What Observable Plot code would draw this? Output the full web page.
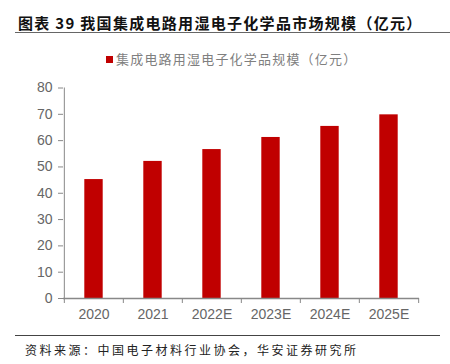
<!DOCTYPE html>
<html><head><meta charset="utf-8">
<script src="https://cdn.jsdelivr.net/npm/d3@7"></script>
<script src="https://cdn.jsdelivr.net/npm/@observablehq/plot@0.6"></script>
<style>
body{margin:0;background:#fff;}
#wrap{position:relative;width:450px;height:364px;overflow:hidden;font-family:"Noto Sans CJK SC",sans-serif;}
#title{position:absolute;left:18px;top:12px;font-size:15px;font-weight:bold;letter-spacing:1.3px;color:#111;white-space:nowrap;}
#tline{position:absolute;left:15px;top:32px;width:435px;height:1px;background:#666;}
#legend{position:absolute;left:106px;top:49px;font-size:13px;letter-spacing:1.2px;color:#7f7f7f;white-space:nowrap;}
#legend span{display:inline-block;width:7px;height:7px;background:#C00000;margin-right:3px;vertical-align:1px;}
#fline{position:absolute;left:15px;top:335px;width:425px;height:1px;background:#444;}
#foot{position:absolute;left:25px;top:341px;font-size:12px;letter-spacing:2.5px;color:#222;white-space:nowrap;}
#chart{position:absolute;left:0;top:0;}
</style></head>
<body><div id="wrap">
<div id="chart"></div>
<div id="title">图表 39 我国集成电路用湿电子化学品市场规模（亿元）</div>
<div id="tline"></div>
<div id="legend"><span></span>集成电路用湿电子化学品规模（亿元）</div>
<div id="fline"></div>
<div id="foot">资料来源：中国电子材料行业协会，华安证券研究所</div>
</div>
<script>
const years = ["2020","2021","2022E","2023E","2024E","2025E"];
const values = [45.2, 52.1, 56.6, 61.2, 65.4, 69.8];
const yTicks = [0,10,20,30,40,50,60,70,80];
const data = years.map((y,i)=>({year:y, value:values[i]}));
const W = 450, ML = 63, MR = 31;
const step = (W - ML - MR) / years.length;
const chart = Plot.plot({
  width: W, height: 364,
  marginTop: 87.5, marginBottom: 66, marginLeft: ML, marginRight: MR,
  style: {fontFamily: "'Liberation Sans', Arial, sans-serif", fontSize: "14px", color: "#595959", background: "transparent"},
  x: {domain: years, padding: 0, label: null},
  y: {domain: [0, 80], label: null},
  marks: [
    Plot.barY(data, {x: "year", y: "value", fill: "#C00000", insetLeft: 20.3, insetRight: 20.3}),
    Plot.axisY({ticks: yTicks, tickSize: 5, tickPadding: 6, stroke: "#888", fill: "#666", fontSize: 14}),
    Plot.ruleX([years[0]], {dx: -step/2, stroke: "#888"}),
    Plot.ruleY([0], {stroke: "#888", strokeWidth: 1.5}),
    Plot.axisX({tickSize: 0, tickPadding: 11, fill: "#666", fontSize: 14}),
    Plot.axisX({tickSize: 5, text: null, dx: -step/2, stroke: "#888"}),
    Plot.axisX({ticks: [years[years.length-1]], tickSize: 5, text: null, dx: step/2, stroke: "#888"})
  ]
});
document.getElementById("chart").appendChild(chart);
</script>
</body></html>
